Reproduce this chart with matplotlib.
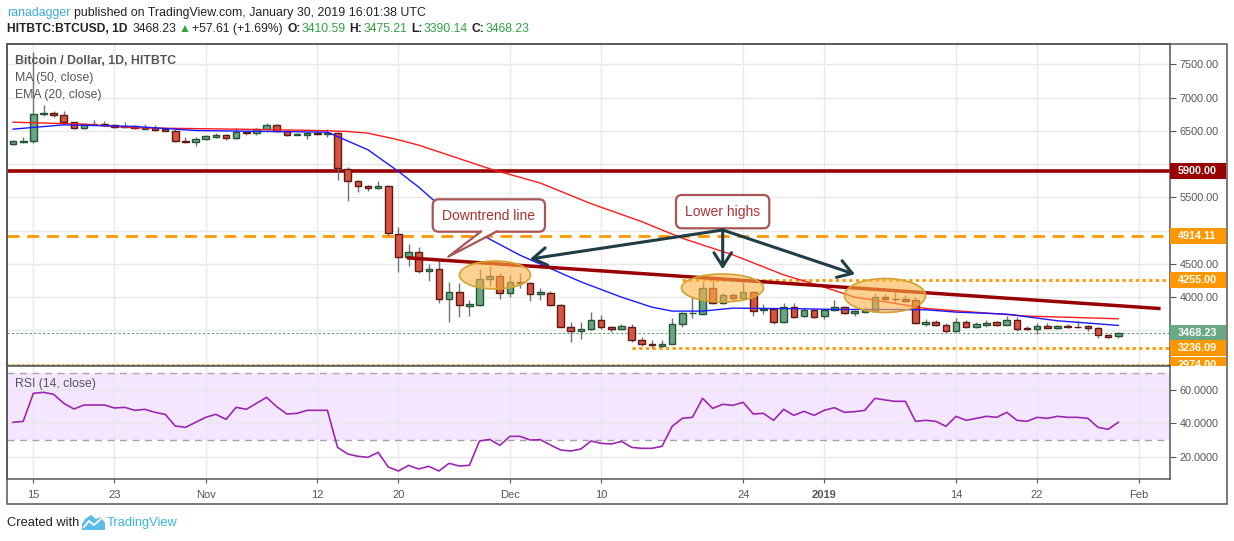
import matplotlib
matplotlib.use('Agg')
import matplotlib.pyplot as plt
import matplotlib.transforms as mtransforms
from matplotlib.patches import Rectangle, FancyBboxPatch, Ellipse, Polygon, FancyArrowPatch
from matplotlib.lines import Line2D
import pandas as pd

plt.rcParams['font.family'] = ['Liberation Sans', 'DejaVu Sans']

# ---- data ----
dates = pd.date_range('2018-10-13', '2019-01-30', freq='D')

opens = [
    6300, 6330, 6340, 6750, 6765, 6735, 6630, 6540, 6600, 6610, 6590, 6550, 6570, 6530, 6545, 6520, 6495, 6345, 6330,
    6375, 6405, 6435, 6385, 6485, 6465, 6525, 6585, 6495, 6440, 6435, 6470, 6450, 6465, 5925, 5745, 5675, 5640, 5670, 4955,
    4605, 4680, 4390, 4425, 3975, 4080, 3870, 3885, 4275, 4315,
    4065, 4230, 4215, 4050, 4065, 3875, 3555, 3495, 3525, 3660, 3555, 3525, 3555, 3360, 3300, 3270, 3300, 3600, 3755, 3750,
    4140, 3915, 4025, 3990, 4070, 3805, 3825, 3630, 3855, 3720, 3805,
    3720, 3810, 3855, 3765, 3780, 3790, 4005, 3975, 3975, 3960, 3600, 3620, 3585, 3490, 3630, 3550, 3580, 3620, 3585, 3660,
    3535, 3520, 3570, 3535, 3560, 3555, 3560, 3540, 3435, 3410.59]
highs = [
    6360, 6405, 7680, 6890, 6800, 6800, 6640, 6610, 6665, 6650, 6610, 6640, 6585, 6600, 6580, 6545, 6520, 6400, 6400,
    6430, 6470, 6445, 6540, 6500, 6545, 6620, 6600, 6510, 6470, 6480, 6490, 6520, 6480, 5955, 5760, 5690, 5750, 5690, 5055,
    4805, 4750, 4500, 4560, 4230, 4210, 3950, 4425, 4475, 4365,
    4340, 4365, 4230, 4130, 4090, 3900, 3630, 3630, 3780, 3725, 3570, 3600, 3590, 3405, 3350, 3350, 3690, 3770, 4015, 4225,
    4255, 4055, 4055, 4240, 4085, 3900, 3840, 3905, 3905, 3830, 3820,
    3825, 3950, 3870, 3805, 3850, 4065, 4045, 4075, 4025, 4000, 3665, 3660, 3610, 3680, 3655, 3625, 3660, 3635, 3720, 3695,
    3570, 3610, 3610, 3575, 3595, 3645, 3575, 3550, 3450, 3475.21]
lows = [
    6290, 6320, 6315, 6730, 6715, 6620, 6530, 6520, 6590, 6570, 6540, 6540, 6525, 6520, 6500, 6490, 6330, 6310, 6265,
    6360, 6390, 6355, 6375, 6440, 6440, 6510, 6480, 6420, 6430, 6375, 6440, 6400, 5755, 5440, 5575, 5600, 5625, 4930, 4375,
    4465, 4370, 4240, 3905, 3625, 3705, 3710, 3860, 4165, 3975,
    4000, 4140, 3945, 3950, 3860, 3545, 3330, 3365, 3510, 3520, 3480, 3500, 3320, 3270, 3240, 3255, 3290, 3550, 3690, 3740,
    3900, 3890, 3960, 3970, 3715, 3750, 3600, 3610, 3690, 3700, 3680,
    3665, 3790, 3740, 3720, 3760, 3770, 3960, 3920, 3930, 3590, 3560, 3570, 3480, 3480, 3540, 3535, 3555, 3570, 3575, 3485,
    3500, 3450, 3530, 3525, 3535, 3540, 3490, 3385, 3380, 3390.14]
closes = [
    6345, 6340, 6750, 6765, 6735, 6630, 6540, 6600, 6610, 6580, 6550, 6570, 6535, 6540, 6510, 6500, 6345, 6330, 6375,
    6420, 6435, 6390, 6480, 6465, 6530, 6585, 6495, 6435, 6445, 6465, 6450, 6460, 5940, 5745, 5670, 5640, 5675, 4965, 4605,
    4680, 4390, 4425, 3975, 4080, 3875, 3890, 4275, 4315, 4065,
    4230, 4210, 4050, 4070, 3875, 3555, 3495, 3525, 3660, 3555, 3525, 3570, 3355, 3300, 3280, 3300, 3600, 3755, 3765, 4140,
    3915, 4025, 3990, 4070, 3790, 3825, 3630, 3855, 3705, 3800, 3705,
    3810, 3855, 3765, 3790, 3805, 4005, 3975, 3965, 3945, 3605, 3625, 3585, 3490, 3630, 3550, 3590, 3610, 3585, 3660, 3520,
    3525, 3570, 3535, 3560, 3545, 3550, 3535, 3435, 3405, 3468.23]

rsi = [
    40.6, 41.2, 58.0, 58.6, 57.4, 52.0, 48.6, 51.0, 51.0, 51.0, 49.2, 49.6, 47.8, 48.4, 46.6, 45.4, 38.4, 37.6, 40.6,
    43.6, 45.4, 42.4, 49.6, 48.4, 52.0, 55.6, 50.0, 45.6, 46.0, 47.8, 47.8, 47.8, 25.6, 21.6, 20.2, 19.6, 22.6, 13.8, 11.4,
    14.8, 12.6, 14.2, 11.4, 16.0, 14.4, 14.8, 29.4, 30.4, 26.8,
    32.2, 32.2, 30.0, 30.2, 27.0, 24.0, 23.4, 24.6, 29.4, 28.0, 27.6, 29.2, 25.6, 25.0, 25.0, 26.2, 38.2, 43.0, 43.6, 55.0,
    49.0, 51.4, 50.8, 52.6, 45.6, 46.0, 41.8, 48.4, 44.8, 47.2, 44.8,
    47.8, 49.4, 46.6, 47.0, 47.8, 55.0, 54.0, 53.2, 53.2, 41.2, 41.8, 41.2, 38.2, 44.2, 41.8, 43.0, 44.2, 43.6, 46.6, 41.8,
    41.2, 43.6, 43.0, 44.2, 43.6, 43.6, 43.0, 37.6, 36.4, 40.6]

ma50_dates = ['2018-10-13', '2018-10-20', '2018-10-25', '2018-11-04', '2018-11-12', '2018-11-15', '2018-11-17',
              '2018-11-20', '2018-11-22', '2018-11-29', '2018-12-04', '2018-12-09', '2018-12-14', '2018-12-18',
              '2018-12-23', '2018-12-28', '2019-01-01', '2019-01-04', '2019-01-07', '2019-01-11', '2019-01-14',
              '2019-01-21', '2019-01-30']
ma50_vals = [6630, 6600, 6545, 6525, 6505, 6490, 6465, 6365, 6285, 5930, 5715, 5405, 5135, 4885, 4635, 4335, 4150,
             4000, 3930, 3830, 3795, 3715, 3675]

ema20_dates = ['2018-10-13', '2018-10-18', '2018-10-25', '2018-10-31', '2018-11-07', '2018-11-13', '2018-11-17',
               '2018-11-20', '2018-11-22', '2018-11-26', '2018-12-02', '2018-12-08', '2018-12-12', '2018-12-15',
               '2018-12-17', '2018-12-20', '2018-12-23', '2018-12-26', '2018-12-30', '2019-01-02', '2019-01-07',
               '2019-01-11', '2019-01-14', '2019-01-19', '2019-01-24', '2019-01-30']
ema20_vals = [6525, 6590, 6565, 6505, 6490, 6480, 6215, 5890, 5655, 5115, 4630, 4230, 4000, 3850, 3790, 3790, 3835,
              3830, 3825, 3815, 3815, 3810, 3775, 3745, 3645, 3575]

trend_dates = ['2018-11-21', '2019-02-03']
trend_prices = [4590, 3830]

resistance = 5900.00
dashed_level = 4914.11
level_4255, level_4255_from = 4255.00, '2018-12-18'
level_3236, level_3236_from = 3236.09, '2018-12-13'
bottom_level = 2974.00
last_close = closes[-1]

tick_dates = ['2018-10-15', '2018-10-23', '2018-11-01', '2018-11-12', '2018-11-20', '2018-12-01', '2018-12-10',
              '2018-12-24', '2019-01-01', '2019-01-14', '2019-01-22', '2019-02-01']
tick_labels = ['15', '23', 'Nov', '12', '20', 'Dec', '10', '24', '2019', '14', '22', 'Feb']
price_ticks = [3500, 4000, 4500, 5000, 5500, 6000, 6500, 7000, 7500]
hidden_price_labels = [3500, 5000, 6000]   # covered by the level tags
rsi_ticks = [20, 40, 60]

start = dates[0]


def dnum(d):
    return (pd.Timestamp(d) - start).days


x = [dnum(d) for d in dates]

# ---- figure ----
W, H = 1234, 541
fig = plt.figure(figsize=(W / 100, H / 100), dpi=100)
pix = mtransforms.Affine2D().scale(1 / W, -1 / H).translate(0, 1) + fig.transFigure

ax = fig.add_axes([7 / W, 1 - 366 / H, 1163 / W, 322 / H])
ax2 = fig.add_axes([7 / W, 1 - 479 / H, 1163 / W, 113 / H], sharex=ax)

GRID = '#e8e8e8'
AXC = '#555555'
ORANGE = '#ff9800'
for a in (ax, ax2):
    for s in a.spines.values():
        s.set_color(AXC)
        s.set_linewidth(1.1)
    a.grid(True, color=GRID, lw=1)
    a.set_axisbelow(True)
    a.yaxis.tick_right()
    a.tick_params(axis='y', length=4, color=AXC, labelcolor=AXC, labelsize=7.8, pad=3)

ax.set_xlim(-0.6, 114.1)
ax.set_ylim(2965, 7805)
ax2.set_ylim(6.6, 74.4)

ax.set_xticks([dnum(d) for d in tick_dates])
ax2.set_xticklabels(tick_labels)
ax.tick_params(axis='x', length=0, labelbottom=False)
ax2.tick_params(axis='x', length=3, color=AXC, labelcolor=AXC, labelsize=8, pad=5)
for lbl in ax2.get_xticklabels():
    if lbl.get_text() == '2019':
        lbl.set_fontweight('bold')

ax.set_yticks(price_ticks)
ax.set_yticklabels(['' if v in hidden_price_labels else '%.2f' % v for v in price_ticks])
ax2.set_yticks(rsi_ticks)
ax2.set_yticklabels(['%.4f' % v for v in rsi_ticks])

# candles
up_fill, up_edge = '#6ba583', '#225437'
dn_fill, dn_edge = '#d75442', '#5b1a13'
ax.vlines(x, lows, highs, color='#737375', lw=1, zorder=3)
for xi, o, c in zip(x, opens, closes):
    up = c >= o
    ax.bar(xi, abs(c - o), bottom=min(o, c), width=0.65,
           color=up_fill if up else dn_fill, edgecolor=up_edge if up else dn_edge, lw=1, zorder=4)

ax.plot([dnum(d) for d in ma50_dates], ma50_vals, color='#ff1a1a', lw=1.0, zorder=5)
ax.plot([dnum(d) for d in ema20_dates], ema20_vals, color='#1a1aff', lw=1.0, zorder=5)

# horizontal levels
ax.axhline(resistance, color='#990000', lw=2.6, zorder=2.5)
ax.axhline(dashed_level, color=ORANGE, lw=2, dashes=(4.3, 2.8), zorder=2.5)
ax.hlines(level_4255, dnum(level_4255_from), 114.1, color=ORANGE, lw=2, linestyles=(0, (1.2, 1.2)), zorder=2.5)
ax.hlines(level_3236, dnum(level_3236_from), 114.1, color=ORANGE, lw=2, linestyles=(0, (1.2, 1.2)), zorder=2.5)
ax.axhline(bottom_level, color=ORANGE, lw=1.2, linestyle=(0, (1.5, 1.5)), zorder=2.5)
ax.axhline(last_close, color='#5e9c76', lw=0.8, linestyle=(0, (2, 2)), zorder=2.5)
ax.plot([dnum(d) for d in trend_dates], trend_prices, color='#990000', lw=2.5, zorder=6)

# price labels on the axis
blend = mtransforms.blended_transform_factory(ax.transAxes, ax.transData)
bw = 56 / 1163
half = 8 * 15


def axis_label(price, text, bg, clip_bottom=None):
    lo = price - half if clip_bottom is None else clip_bottom
    r = Rectangle((1.0, lo), bw, price + half - lo, transform=blend, fc=bg, ec='none', clip_on=False, zorder=10)
    ax.add_patch(r)
    t = ax.text(1.0 + 8 / 1163, price, text, transform=blend, color='white', fontsize=7.8,
                fontweight='bold', va='center', ha='left', zorder=11, clip_on=clip_bottom is not None)
    if clip_bottom is not None:
        t.set_clip_path(r)


axis_label(resistance, '%.2f' % resistance, '#990000')
axis_label(dashed_level, '%.2f' % dashed_level, ORANGE)
axis_label(level_4255, '%.2f' % level_4255, ORANGE)
axis_label(last_close, '%.2f' % last_close, '#6aa784')
axis_label(level_3236, '%.2f' % level_3236, ORANGE)
axis_label(bottom_level, '%.2f' % bottom_level, ORANGE, clip_bottom=2965)

# RSI pane
ax2.axhspan(30, 70, color='#f4e6ff', zorder=0.5, lw=0)
ax2.axhline(70, color='#aaa0b2', lw=1, dashes=(5, 4))
ax2.axhline(30, color='#aaa0b2', lw=1, dashes=(5, 4))
ax2.plot(x, rsi, color='#9c27b0', lw=1.2, zorder=4)

# pane legends
for txt, yy, wt in [('Bitcoin / Dollar, 1D, HITBTC', 61, 'bold'), ('MA (50, close)', 78, 'normal'),
                    ('EMA (20, close)', 95, 'normal')]:
    fig.text(15, yy, txt, transform=pix, fontsize=8.8, color='#555555', fontweight=wt, va='center', zorder=20)
fig.text(15, 384, 'RSI (14, close)', transform=pix, fontsize=8.8, color='#555555', va='center', zorder=20)

# annotations: ellipses, callouts, arrows
ell_fc = (1.0, 0.70, 0.28, 0.6)
for cx, cy, ew, eh in [(495, 275, 71, 28), (722.5, 288, 82, 28), (885, 295.5, 81, 34)]:
    fig.add_artist(Ellipse((cx, cy), ew, eh, transform=pix, fc=ell_fc, ec='#d2a230', lw=1.2, zorder=12))

CALL_EC, CALL_TC = '#a85555', '#a83232'
fig.add_artist(FancyBboxPatch((432.7, 199.3), 112.3, 32.4, boxstyle='round,pad=0,rounding_size=6',
                              transform=pix, fc='white', ec=CALL_EC, lw=1.6, zorder=13))
fig.add_artist(Polygon([(481, 230.2), (448.3, 256.7), (496.7, 230.2)], closed=True, transform=pix,
                       fc='white', ec='none', zorder=14))
fig.add_artist(Line2D([481, 448.3, 496.7], [231.5, 256.7, 231.5], transform=pix, color=CALL_EC, lw=1.6, zorder=14))
fig.text(488.9, 215.5, 'Downtrend line', transform=pix, fontsize=10, color=CALL_TC, ha='center', va='center', zorder=15)

fig.add_artist(FancyBboxPatch((676, 195), 93.3, 33.3, boxstyle='round,pad=0,rounding_size=6',
                              transform=pix, fc='white', ec=CALL_EC, lw=1.6, zorder=13))
fig.text(722.7, 211.7, 'Lower highs', transform=pix, fontsize=10, color=CALL_TC, ha='center', va='center', zorder=15)

for tx, ty in [(530, 259), (722.7, 269.3), (855, 274.3)]:
    fig.add_artist(FancyArrowPatch((722.7, 230), (tx, ty), transform=pix, arrowstyle='->,head_length=0.55,head_width=0.35',
                                   mutation_scale=18, color='#1f3d47', lw=2.2, shrinkA=0, shrinkB=0, zorder=16))

# outer frame
fig.add_artist(Rectangle((6.5, 43.5), 1220.5, 460.5, transform=pix, fill=False, ec=AXC, lw=1.1, zorder=1))

# header and footer
renderer = fig.canvas.get_renderer()


def flow(x0, y0, pieces, size):
    xx = x0
    for s, color, weight, gap in pieces:
        t = fig.text(xx, y0, s, transform=pix, fontsize=size, color=color, fontweight=weight, va='center', ha='left')
        xx += t.get_window_extent(renderer).width + gap


DARK, GREEN = '#222222', '#2fa53e'
flow(7, 13, [('ranadagger', '#3da9dc', 'normal', 3),
             ('published on TradingView.com, January 30, 2019 16:01:38 UTC', DARK, 'normal', 0)], 8.95)
flow(7, 29, [('HITBTC:BTCUSD, 1D', DARK, 'bold', 5), ('3468.23', DARK, 'normal', 2), ('\u25b2', GREEN, 'normal', 2),
             ('+57.61 (+1.69%)', DARK, 'normal', 4),
             ('O:', DARK, 'bold', 1), ('3410.59', GREEN, 'normal', 4),
             ('H:', DARK, 'bold', 1), ('3475.21', GREEN, 'normal', 4),
             ('L:', DARK, 'bold', 1), ('3390.14', GREEN, 'normal', 4),
             ('C:', DARK, 'bold', 1), ('3468.23', GREEN, 'normal', 0)], 8.75)

fig.text(7, 523, 'Created with', transform=pix, fontsize=9.3, color='#222222', va='center')
fig.add_artist(Polygon([(82, 530), (105, 530), (105, 523), (101, 517), (96, 519), (91, 515), (85, 519), (82, 524)],
                       closed=True, transform=pix, fc='#5bbde9', ec='none'))
fig.add_artist(Line2D([84, 89, 94, 102], [527, 521, 525, 518], transform=pix, color='white', lw=1.3))
fig.text(107, 523, 'TradingView', transform=pix, fontsize=9.3, color='#3bb3e4', va='center')

fig.savefig('out.png', dpi=100)
